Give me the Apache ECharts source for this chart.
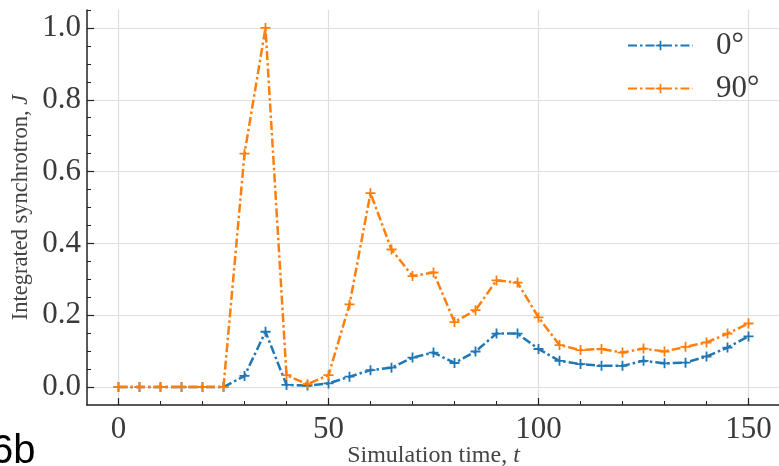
<!DOCTYPE html>
<html>
<head>
<meta charset="utf-8">
<script src="https://cdn.jsdelivr.net/npm/echarts@6/dist/echarts.min.js"></script>
<style>
html,body{margin:0;padding:0;background:#fff;}
#chart{width:779px;height:466px;}
</style>
</head>
<body>
<div id="chart"></div>
<script>
// Data
const simTime = [0,5,10,15,20,25,30,35,40,45,50,55,60,65,70,75,80,85,90,95,100,105,110,115,120,125,130,135,140,145,150];
const sync0deg = [0,0,0,0,0,0,0.031,0.154,0.006,0.004,0.010,0.029,0.047,0.054,0.082,0.096,0.067,0.099,0.149,0.149,0.106,0.073,0.064,0.059,0.059,0.073,0.066,0.068,0.085,0.110,0.141];
const sync90deg = [0,0,0,0,0,0,0.650,1.000,0.033,0.008,0.033,0.230,0.540,0.383,0.309,0.319,0.181,0.214,0.297,0.291,0.194,0.117,0.103,0.106,0.096,0.107,0.099,0.112,0.124,0.149,0.177];
const seriesNames = ['0°', '90°'];
const xMajorTicks = [0, 50, 100, 150];
const xMinorTicks = [0,10,20,30,40,50,60,70,80,90,100,110,120,130,140,150];
const yMajorTicks = [0, 0.2, 0.4, 0.6, 0.8, 1.0];
const yMinorTicks = [0,0.05,0.1,0.15,0.2,0.25,0.3,0.35,0.4,0.45,0.5,0.55,0.6,0.65,0.7,0.75,0.8,0.85,0.9,0.95,1.0,1.05];

const serif = '"Liberation Serif", "DejaVu Serif", serif';
const labelColor = '#3a3a3a';
const gridColor = '#dedede';
const axisColor = '#222';
const plus = 'path://M0,4.1H10V5.9H0Z M4.1,0H5.9V10H4.1Z';

function pairs(xs, ys) { return xs.map((x, i) => [x, ys[i]]); }

const chart = echarts.init(document.getElementById('chart'), null, {renderer: 'canvas'});

const dash = [9, 3, 2.5, 3];

chart.setOption({
  animation: false,
  backgroundColor: '#fff',
  grid: {left: 87, right: -1, top: 10, bottom: 61, containLabel: false, outerBoundsMode: 'none'},
  legend: {
    orient: 'vertical',
    left: 627,
    top: 30,
    padding: 0,
    itemWidth: 65,
    itemHeight: 12,
    itemGap: 12,
    data: seriesNames,
    textStyle: {fontFamily: serif, fontSize: 31, color: labelColor, lineHeight: 30, padding: [0, 0, 0, 18]}
  },
  xAxis: [
    {
      type: 'value', min: -7.5, max: 157.5, interval: 50, position: 'bottom',
      axisLine: {show: true, onZero: false, lineStyle: {color: axisColor, width: 1.5}},
      axisTick: {show: true, inside: true, length: 7, customValues: xMajorTicks, lineStyle: {color: axisColor, width: 1.2}},
      axisLabel: {show: true, customValues: xMajorTicks, fontFamily: serif, fontSize: 31, color: labelColor, margin: 9},
      splitLine: {show: true, lineStyle: {color: gridColor, width: 1.2}},
      name: 'Simulation time, {i|t}',
      nameLocation: 'middle',
      nameGap: 39,
      nameMoveOverlap: false,
      nameTextStyle: {fontFamily: serif, fontSize: 24, color: '#444',
        rich: {i: {fontFamily: serif, fontSize: 24, fontStyle: 'italic', color: '#444'}}}
    },
    {
      type: 'value', min: -7.5, max: 157.5, interval: 50, position: 'bottom',
      axisLine: {show: false, onZero: false},
      axisTick: {show: true, inside: true, length: 4, customValues: xMinorTicks, lineStyle: {color: axisColor, width: 1}},
      axisLabel: {show: false},
      splitLine: {show: false}
    }
  ],
  yAxis: [
    {
      type: 'value', min: -0.05, max: 1.05, interval: 0.05, position: 'left',
      axisLine: {show: true, onZero: false, lineStyle: {color: axisColor, width: 1.5}},
      axisTick: {show: true, inside: true, length: 7, customValues: yMajorTicks, lineStyle: {color: axisColor, width: 1.2}},
      axisLabel: {show: true, customValues: yMajorTicks, fontFamily: serif, fontSize: 31, color: labelColor, margin: 6,
        formatter: v => v.toFixed(1)},
      splitLine: {show: true, lineStyle: {color: gridColor, width: 1.2}},
      name: 'Integrated synchrotron, {i|J}',
      nameLocation: 'middle',
      nameGap: 54,
      nameMoveOverlap: false,
      nameTextStyle: {fontFamily: serif, fontSize: 22.5, color: '#444',
        rich: {i: {fontFamily: serif, fontSize: 22.5, fontStyle: 'italic', color: '#444'}}}
    },
    {
      type: 'value', min: -0.05, max: 1.05, interval: 0.05, position: 'left',
      axisLine: {show: false, onZero: false},
      axisTick: {show: true, inside: true, length: 4, customValues: yMinorTicks, lineStyle: {color: axisColor, width: 1}},
      axisLabel: {show: false},
      splitLine: {show: false}
    }
  ],
  series: [
    {
      name: seriesNames[0], type: 'line', xAxisIndex: 0, yAxisIndex: 0,
      data: pairs(simTime, sync0deg),
      color: '#1f77b4',
      symbol: plus, symbolSize: 10, showAllSymbol: true,
      lineStyle: {color: '#1f77b4', width: 2.5, type: dash},
      itemStyle: {color: '#1f77b4'},
      z: 3
    },
    {
      name: seriesNames[1], type: 'line', xAxisIndex: 0, yAxisIndex: 0,
      data: pairs(simTime, sync90deg),
      color: '#ff7f0e',
      symbol: plus, symbolSize: 10, showAllSymbol: true,
      lineStyle: {color: '#ff7f0e', width: 2.5, type: dash},
      itemStyle: {color: '#ff7f0e'},
      z: 4
    }
  ],
  graphic: [
    {type: 'text', x: -9, y: 472, z: 100,
      style: {text: '6b', fontFamily: '"Liberation Sans", Arial, sans-serif', fontSize: 40, fill: '#000', verticalAlign: 'bottom', align: 'left'}}
  ]
});
</script>
</body>
</html>
